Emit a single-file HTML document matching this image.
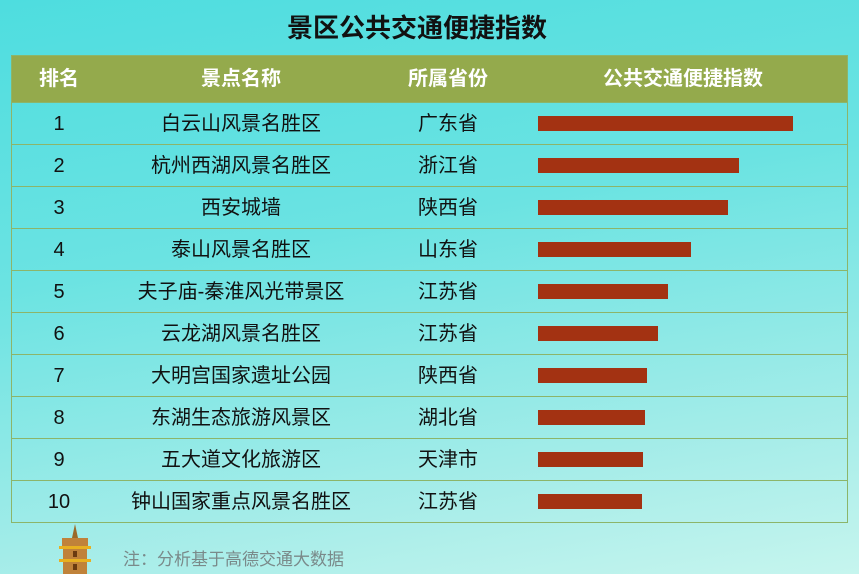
<!DOCTYPE html>
<html><head><meta charset="utf-8"><style>
body{margin:0;width:859px;height:574px;overflow:hidden;background:linear-gradient(170deg,#4edddf 0%,#6be3e2 40%,#a8ede9 80%,#c6f5ee 100%);font-family:"Liberation Sans","Noto Sans CJK SC",sans-serif;position:relative}
.t{position:absolute;top:8px;left:0;width:834px;text-align:center;font-size:26px;font-weight:bold;color:#111}
.tb{position:absolute;left:11px;top:55px;width:837px;border:1px solid #8cb56a;box-sizing:border-box}
.h{height:46px;background:#94aa4c;color:#fff;font-weight:bold;font-size:20px;position:relative}
.r{height:42px;border-top:1px solid #8cb56a;box-sizing:border-box;position:relative;font-size:20px;color:#111}
.c{position:absolute;top:0;transform:translateX(-50%);white-space:nowrap}
.h .c{line-height:46px}.r .c{line-height:42px}
.b{position:absolute;left:526px;top:13px;height:15px;background:#a33212}
.n{position:absolute;left:123px;top:545px;font-size:17px;color:#7a8a8a}
</style></head><body>
<div class="t">景区公共交通便捷指数</div>
<div class="tb">
<div class="h"><span class="c" style="left:47px">排名</span><span class="c" style="left:229px">景点名称</span><span class="c" style="left:436px">所属省份</span><span class="c" style="left:671px">公共交通便捷指数</span></div>
<div class="r"><span class="c" style="left:47px">1</span><span class="c" style="left:229px">白云山风景名胜区</span><span class="c" style="left:436px">广东省</span><div class="b" style="width:255px"></div></div>
<div class="r"><span class="c" style="left:47px">2</span><span class="c" style="left:229px">杭州西湖风景名胜区</span><span class="c" style="left:436px">浙江省</span><div class="b" style="width:201px"></div></div>
<div class="r"><span class="c" style="left:47px">3</span><span class="c" style="left:229px">西安城墙</span><span class="c" style="left:436px">陕西省</span><div class="b" style="width:190px"></div></div>
<div class="r"><span class="c" style="left:47px">4</span><span class="c" style="left:229px">泰山风景名胜区</span><span class="c" style="left:436px">山东省</span><div class="b" style="width:153px"></div></div>
<div class="r"><span class="c" style="left:47px">5</span><span class="c" style="left:229px">夫子庙-秦淮风光带景区</span><span class="c" style="left:436px">江苏省</span><div class="b" style="width:130px"></div></div>
<div class="r"><span class="c" style="left:47px">6</span><span class="c" style="left:229px">云龙湖风景名胜区</span><span class="c" style="left:436px">江苏省</span><div class="b" style="width:120px"></div></div>
<div class="r"><span class="c" style="left:47px">7</span><span class="c" style="left:229px">大明宫国家遗址公园</span><span class="c" style="left:436px">陕西省</span><div class="b" style="width:109px"></div></div>
<div class="r"><span class="c" style="left:47px">8</span><span class="c" style="left:229px">东湖生态旅游风景区</span><span class="c" style="left:436px">湖北省</span><div class="b" style="width:107px"></div></div>
<div class="r"><span class="c" style="left:47px">9</span><span class="c" style="left:229px">五大道文化旅游区</span><span class="c" style="left:436px">天津市</span><div class="b" style="width:105px"></div></div>
<div class="r"><span class="c" style="left:47px">10</span><span class="c" style="left:229px">钟山国家重点风景名胜区</span><span class="c" style="left:436px">江苏省</span><div class="b" style="width:104px"></div></div>
</div>
<svg style="position:absolute;left:55px;top:524px" width="40" height="50">
<polygon points="20,0 17,14 23,14" fill="#9a6a2a"/>
<rect x="7" y="14" width="26" height="10" fill="#c0823a"/><rect x="4" y="22" width="32" height="3" fill="#e8b020"/>
<rect x="8" y="25" width="24" height="12" fill="#c0823a"/><rect x="4" y="35" width="32" height="3" fill="#e8b020"/>
<rect x="8" y="38" width="24" height="12" fill="#c0823a"/>
<rect x="18" y="27" width="4" height="6" fill="#6a3a10"/><rect x="18" y="40" width="4" height="6" fill="#6a3a10"/>
</svg>
<div class="n">注：分析基于高德交通大数据</div>
</body></html>
